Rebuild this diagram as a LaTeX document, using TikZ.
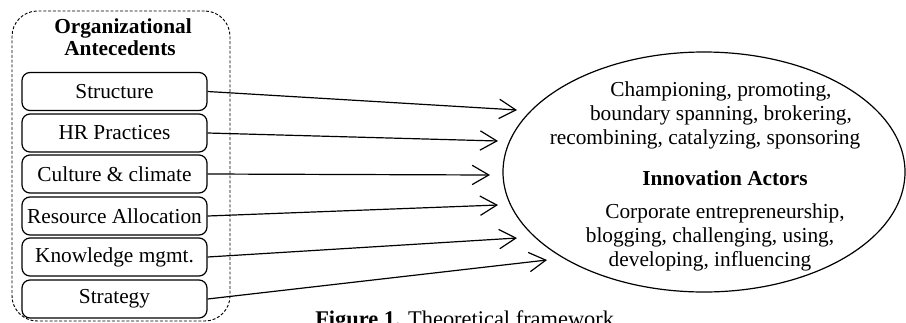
\documentclass[tikz,border=0pt]{standalone}
\usepackage{fontspec}
\setmainfont{Liberation Serif}
\usetikzlibrary{arrows.meta,shapes.geometric}
\begin{document}
\begin{tikzpicture}[x=0.75pt,y=-0.75pt,
  every node/.style={font=\fontsize{16}{18}\selectfont},
  factor/.style={draw, line width=0.9pt, rounded corners=6pt, minimum width=138.75pt, minimum height=28.5pt, inner sep=0pt},
  link/.style={line width=0.9pt, -{Straight Barb[length=12.5pt,width=14.5pt,line width=0.9pt]}},
  txt/.style={anchor=base, inner sep=0pt}
]
\useasboundingbox (0,0) rectangle (906,322);
% dashed group
\node[draw, dashed, dash pattern=on 2.2pt off 1.4pt, line width=0.7pt, rounded corners=19pt,
  minimum width=163.5pt, minimum height=232.5pt, inner sep=0pt] (group) at (121,166) {};
\node[txt, font=\fontsize{16}{18}\selectfont\bfseries] (t1) at (123,33) {Organizational};
\node[txt, font=\fontsize{16}{18}\selectfont\bfseries] (t2) at (120,55) {Antecedents};
% factor boxes
\node[factor] (s1) at (114.5,91.5) {Structure};
\node[factor] (s2) at (114.5,133) {HR Practices};
\node[factor] (s3) at (114.5,174) {Culture \& climate};
\node[factor] (s4) at (114.5,216) {Resource Allocation};
\node[factor] (s5) at (114.5,257) {Knowledge mgmt.};
\node[factor] (s6) at (114.5,299) {Strategy};
% ellipse
\node[draw, ellipse, line width=0.9pt, minimum width=301.5pt, minimum height=180pt, inner sep=0pt] (actors) at (704,172) {};
\node[txt] (a1) at (721,96) {Championing, promoting,};
\node[txt] (a2) at (721,120) {boundary spanning, brokering,};
\node[txt] (a3) at (705,144) {recombining, catalyzing, sponsoring};
\node[txt, font=\fontsize{16}{18}\selectfont\bfseries] (a4) at (725,185) {Innovation Actors};
\node[txt] (a5) at (725,218) {Corporate entrepreneurship,};
\node[txt] (a6) at (710,242) {blogging, challenging, using,};
\node[txt] (a7) at (710,266) {developing, influencing};
% arrow ends
\coordinate (e1) at (517,110);
\coordinate (e2) at (498,141);
\coordinate (e3) at (490,175);
\coordinate (e4) at (498,205);
\coordinate (e5) at (517,238);
\coordinate (e6) at (547,260);
\draw[link] (s1.east) -- (e1);
\draw[link] (s2.east) -- (e2);
\draw[link] (s3.east) -- (e3);
\draw[link] (s4.east) -- (e4);
\draw[link] (s5.east) -- (e5);
\draw[link] (s6.east) -- (e6);
% caption (cut by page edge)
\node[anchor=base west, inner sep=0pt, font=\fontsize{16.8}{18}\selectfont] (cap) at (315,326) {\textbf{Figure 1.} Theoretical framework};
\end{tikzpicture}
\end{document}
